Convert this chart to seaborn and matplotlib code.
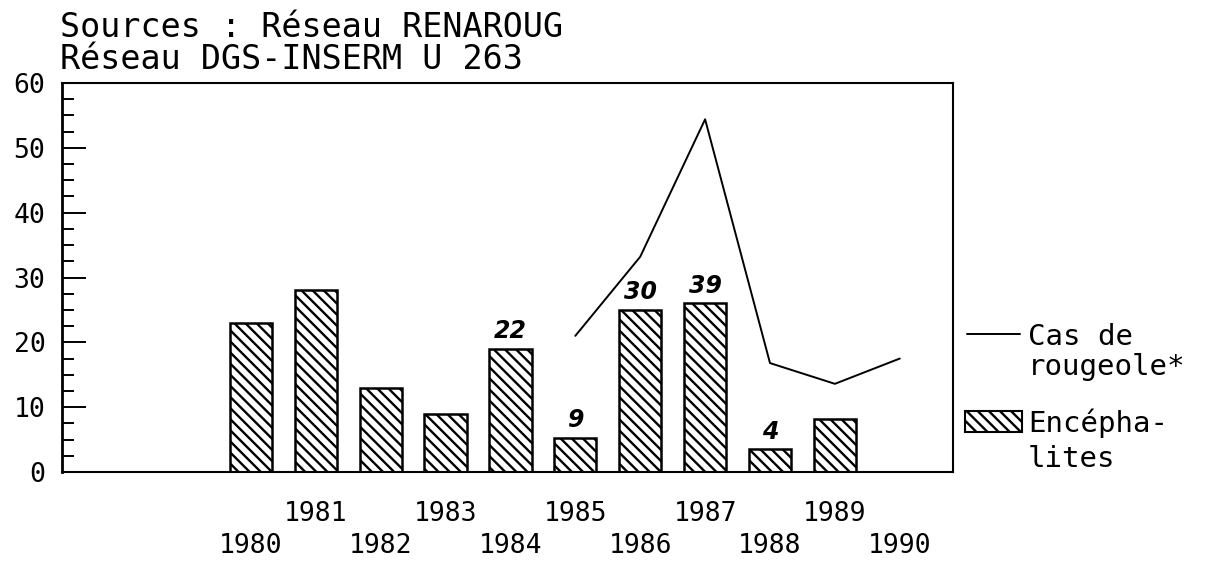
import matplotlib
matplotlib.use("Agg")
import matplotlib.pyplot as plt
from matplotlib.lines import Line2D
from matplotlib.patches import Rectangle
from matplotlib.ticker import MultipleLocator
import numpy as np
import pandas as pd
import seaborn as sns

# ---- data ----
years_bar = [1980, 1981, 1982, 1983, 1984, 1985, 1986, 1987, 1988, 1989]
encephalites = [23, 28, 13, 9, 19, 5.3, 25, 26, 3.5, 8.2]
years_line = [1985, 1986, 1987, 1988, 1989, 1990]
rougeole = [21.0, 33.2, 54.4, 16.8, 13.6, 17.5]
annot_years = [1984, 1985, 1986, 1987, 1988]
annot_labels = ["22", "9", "30", "39", "4"]
year_ticks = [1980, 1981, 1982, 1983, 1984, 1985, 1986, 1987, 1988, 1989, 1990]
y_ticks = [0, 10, 20, 30, 40, 50, 60]
title_lines = ["Sources : Réseau RENAROUG", "Réseau DGS-INSERM U 263"]
legend_line = ["Cas de", "rougeole*"]
legend_bar = ["Encépha-", "lites"]

HATCH = "\\\\\\"

sns.set_theme(style="white")
plt.rcParams['font.family'] = ['DejaVu Sans Mono', 'DejaVu Sans']
plt.rcParams['hatch.linewidth'] = 1.7
plt.rcParams['hatch.color'] = 'black'
plt.rcParams['text.color'] = 'black'
plt.rcParams['xtick.color'] = 'black'
plt.rcParams['ytick.color'] = 'black'

W, H = 1220, 564
fig = plt.figure(figsize=(W / 100, H / 100), dpi=100)
fig.patch.set_facecolor('white')
ax = fig.add_axes([62 / W, 1 - 472 / H, (953 - 62) / W, (472 - 83) / H])
ax.set_facecolor('white')

df_bar = pd.DataFrame({"annee": years_bar, "cas": encephalites})
sns.barplot(data=df_bar, x="annee", y="cas", native_scale=True, width=0.65,
            color="white", saturation=1, edgecolor="black", linewidth=1.8,
            hatch=HATCH, ax=ax)

df_line = pd.DataFrame({"annee": years_line, "cas": rougeole})
sns.lineplot(data=df_line, x="annee", y="cas", color="black", linewidth=1.4, ax=ax)

# handwritten annotations
lookup = dict(zip(years_bar, encephalites))
for yr, lab in zip(annot_years, annot_labels):
    ax.annotate(lab, (yr, lookup[yr]), xytext=(0, 4), textcoords="offset points",
                ha="center", va="bottom", fontsize=17, fontweight="bold",
                fontstyle="italic", family=["DejaVu Sans"], color="black")

ax.set_xlim(1977.09, 1990.82)
ax.set_ylim(0, 60)
ax.set_xlabel("")
ax.set_ylabel("")

even = year_ticks[0::2]
odd = year_ticks[1::2]
ax.set_xticks(even)
ax.set_xticklabels([str(y) for y in even])
ax.set_xticks(odd, minor=True)
ax.set_xticklabels([str(y) for y in odd], minor=True)
ax.tick_params(axis='x', which='both', length=0, labelsize=19, colors='black')
ax.tick_params(axis='x', which='major', pad=44)
ax.tick_params(axis='x', which='minor', pad=21)

ax.set_yticks(y_ticks)
ax.set_yticklabels([str(v) for v in y_ticks])
ax.yaxis.set_minor_locator(MultipleLocator(2.5))
ax.tick_params(axis='y', which='major', direction='in', length=17, width=1.4,
               pad=12, labelsize=19, left=True, colors='black')
ax.tick_params(axis='y', which='minor', direction='in', length=8.5, width=1.4, left=True)

for s in ax.spines.values():
    s.set_visible(True)
    s.set_color('black')
    s.set_linewidth(1.5)
ax.spines['left'].set_linewidth(2)

# title
fig.text(60 / W, 1 - 37 / H, title_lines[0], fontsize=24, va='baseline', ha='left')
fig.text(60 / W, 1 - 69 / H, title_lines[1], fontsize=24, va='baseline', ha='left')

# legend (manual, outside the axes)
fig.add_artist(Line2D([967 / W, 1020 / W], [1 - 334 / H, 1 - 334 / H],
                      transform=fig.transFigure, color='black', lw=1.4))
fig.text(1028 / W, 1 - 345 / H, legend_line[0], fontsize=21, va='baseline')
fig.text(1028 / W, 1 - 375 / H, legend_line[1], fontsize=21, va='baseline')
fig.add_artist(Rectangle((965 / W, 1 - 432 / H), 57 / W, 21 / H,
                         transform=fig.transFigure, facecolor='white',
                         edgecolor='black', hatch=HATCH, lw=1.5))
fig.text(1028 / W, 1 - 432 / H, legend_bar[0], fontsize=21, va='baseline')
fig.text(1028 / W, 1 - 467 / H, legend_bar[1], fontsize=21, va='baseline')

fig.savefig("out.png", dpi=100, facecolor='white')
